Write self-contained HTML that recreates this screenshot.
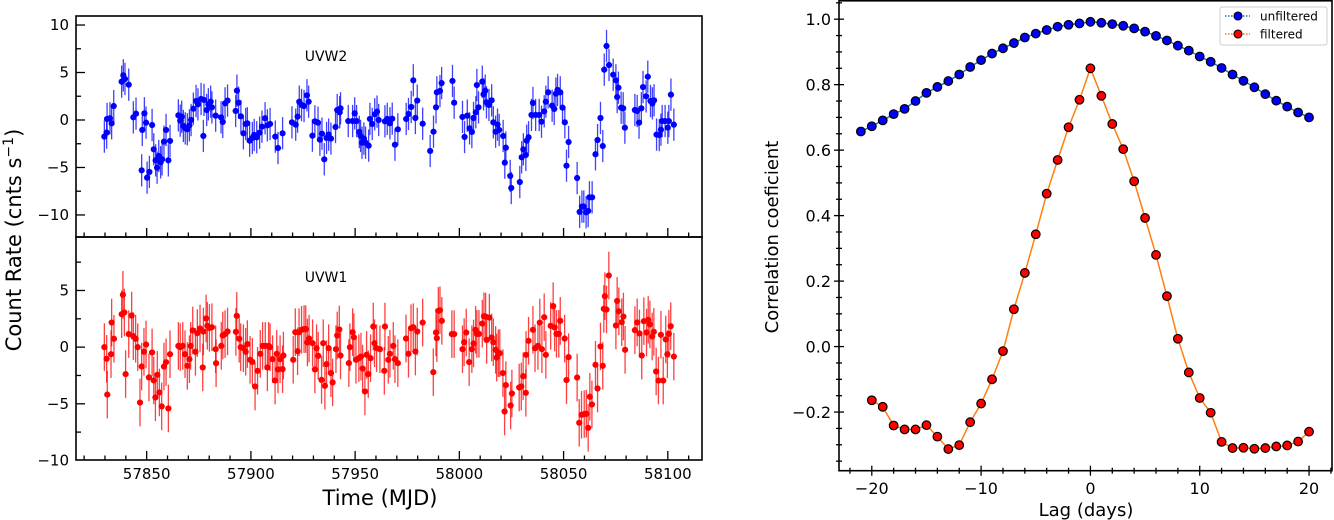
<!DOCTYPE html>
<html><head><meta charset="utf-8">
<style>
html,body{margin:0;padding:0;background:#fff;}
svg{display:block;font-family:"DejaVu Sans","Liberation Sans",sans-serif;}
</style></head>
<body>
<svg id="fig" width="1334" height="520" viewBox="0 0 1334 520" xmlns="http://www.w3.org/2000/svg">
<g id="lc"></g>
<g id="cc"></g>
</svg>
<script>
// ---------- Light-curve data ----------
const tW2 = [57829.7,57830.8,57831.0,57832.4,57833.2,57834.2,57838.0,57838.8,57839.6,57841.4,57843.6,57844.9,57847.6,57847.9,57848.9,57849.7,57850.2,57851.3,57852.6,57853.4,57854.3,57855.0,57855.8,57856.7,57857.4,57858.3,57859.3,57860.4,57861.2,57865.2,57866.1,57866.8,57867.6,57868.5,57869.5,57870.5,57871.3,57872.4,57873.7,57874.6,57876.1,57877.2,57877.5,57878.8,57879.6,57880.7,57881.3,57883.1,57885.7,57886.5,57887.6,57888.8,57892.7,57893.3,57894.1,57895.2,57896.4,57897.5,57898.3,57899.4,57900.7,57901.6,57902.8,57904.2,57905.3,57906.8,57907.9,57909.2,57911.7,57913.0,57915.2,57919.7,57921.5,57922.4,57923.2,57924.3,57925.5,57926.9,57927.7,57929.5,57930.7,57932.2,57933.1,57934.1,57935.2,57936.3,57937.3,57938.4,57940.6,57941.4,57942.6,57943.0,57946.7,57948.8,57949.8,57950.7,57952.0,57952.6,57953.3,57954.2,57955.0,57956.5,57957.1,57958.2,57959.4,57960.5,57961.3,57964.3,57965.4,57966.7,57967.8,57969.1,57970.5,57974.5,57975.6,57976.9,57977.9,57978.9,57979.8,57982.4,57986.0,57987.6,57988.8,57989.2,57990.7,57991.5,57996.7,57997.5,58001.5,58002.5,58003.8,58004.9,58006.0,58006.8,58007.9,58008.4,58009.2,58011.0,58011.6,58012.4,58013.0,58014.2,58015.5,58016.3,58017.4,58018.3,58019.1,58021.0,58021.8,58022.3,58024.4,58024.9,58029.0,58029.9,58030.7,58031.9,58032.3,58033.2,58034.6,58035.3,58036.6,58038.3,58039.4,58040.7,58041.5,58042.6,58044.5,58045.5,58046.3,58047.1,58048.4,58049.5,58050.6,58051.4,58052.4,58056.5,58057.7,58058.8,58059.7,58060.8,58061.8,58062.4,58063.7,58065.3,58066.3,58067.7,58068.8,58069.5,58070.6,58071.8,58073.8,58075.1,58076.3,58075.7,58077.6,58078.6,58079.4,58084.2,58085.3,58086.2,58087.3,58088.1,58089.6,58090.4,58091.7,58092.6,58093.4,58094.6,58095.9,58096.7,58097.3,58098.7,58100.0,58100.5,58101.5,58102.9];
const rW2 = [-1.75,-1.33,0.11,0.18,-0.35,1.47,4.04,4.7,4.32,3.72,0.28,0.67,-5.3,-1.05,0.7,-0.28,-6.07,-5.47,-0.53,-3.09,-4.25,-5.02,-3.79,-4.46,-4.14,-2.28,-1.05,-4.25,-2.21,0.49,-0.07,0.35,-0.63,-0.88,-0.98,-0.56,0,1.19,2.0,1.65,2.21,-1.68,2.11,1.05,1.65,1.93,1.33,0.46,0.28,-0.21,1.75,2.04,0.95,3.09,1.82,0.39,-1.4,-0.42,-0.35,-2.18,-1.89,-1.58,-1.82,-1.33,-0.7,0.18,-0.56,-0.42,-1.75,-2.95,-1.4,-0.25,-0.49,0.35,1.93,1.58,1.47,2.6,1.93,-1.65,-0.14,-0.28,-2.07,-1.44,-4.14,-1.89,-1.54,-1.96,-0.74,1.05,0.81,1.23,-0.11,-0.11,0.7,-0.11,-1.26,-1.68,-2.39,-1.96,-2.39,-2.7,0.11,-0.42,0.6,0.88,0,-0.14,0.11,-0.35,0.14,-2.6,-0.98,0.11,0.63,1.37,4.18,0.21,2.04,-0.39,-3.26,-1.23,1.33,2.91,3.05,3.89,4.11,1.82,0.32,-1.79,0.46,-0.88,-1.26,0.21,0.81,3.68,1.33,4.04,2.7,3.09,1.86,1.58,2.07,-0.25,-1.23,-0.49,-1.05,-1.68,-4.49,-2.91,-5.89,-7.16,-6.53,-3.93,-3.09,-3.68,-2.18,-1.82,0.53,1.79,0.53,0.53,-0.18,0.91,1.93,2.91,1.51,1.16,2.77,3.16,2.91,1.30,-0.25,-4.81,-2.32,-6.11,-9.68,-9.12,-9.12,-9.72,-9.58,-8.14,-8.14,-3.61,-2.11,0.21,-2.74,5.30,7.79,5.79,4.77,4.18,3.40,2.42,1.30,1.23,-0.81,1.05,0.95,-0.28,1.23,3.47,2.49,4.56,2.00,1.75,2.07,-1.54,-1.58,-1.02,-0.11,-0.11,-0.81,-0.11,2.67,-0.49];
const tW1 = [57829.7,57830.8,57831.1,57832.9,57833.2,57834.3,57838.0,57838.6,57839.3,57839.9,57841.4,57842.8,57843.6,57844.7,57845.7,57846.8,57847.6,57848.7,57849.7,57851.1,57852.6,57853.4,57854.2,57855.1,57856.1,57857.2,57858.3,57859.3,57860.4,57861.2,57865.2,57866.1,57867.3,57868.4,57869.5,57870.5,57871.1,57872.1,57873.4,57874.3,57875.6,57876.9,57877.2,57878.5,57879.1,57880.1,57881.3,57883.1,57883.3,57885.8,57886.5,57887.6,57888.8,57892.8,57893.2,57894.4,57895.1,57896.4,57897.5,57898.3,57899.6,57900.7,57902.0,57903.2,57904.5,57905.6,57906.9,57907.9,57908.5,57909.2,57910.4,57911.6,57912.4,57913.0,57914.0,57915.2,57915.6,57920.3,57921.3,57922.4,57923.1,57924.3,57925.5,57926.3,57927.1,57927.9,57929.6,57930.7,57931.5,57932.3,57933.9,57934.7,57935.5,57936.3,57937.3,57938.4,57939.2,57940.8,57941.4,57942.4,57943.0,57947.0,57947.5,57948.8,57949.4,57950.4,57951.8,57952.8,57953.6,57954.7,57955.5,57956.3,57957.4,57958.7,57959.3,57960.3,57961.9,57964.0,57964.3,57965.9,57966.7,57968.3,57969.1,57970.5,57974.4,57975.6,57976.8,57977.9,57978.9,57979.8,57982.4,57987.5,57988.8,57989.2,57989.9,57990.7,57991.6,57996.4,57997.5,58001.5,58002.3,58003.3,58004.7,58006.0,58006.8,58007.8,58008.4,58009.4,58011.0,58011.8,58012.6,58013.1,58014.4,58015.5,58016.3,58017.4,58017.9,58018.7,58019.4,58020.9,58021.7,58022.3,58024.6,58025.2,58028.7,58029.7,58030.6,58031.9,58032.0,58033.2,58035.3,58036.3,58037.7,58038.6,58039.6,58040.7,58041.5,58043.8,58045.0,58045.7,58046.6,58047.7,58048.4,58050.5,58051.4,58052.4,58056.5,58057.5,58058.6,58059.9,58060.9,58061.8,58062.6,58063.6,58065.3,58066.3,58067.7,58068.8,58069.3,58069.8,58070.6,58071.7,58075.1,58075.7,58076.5,58077.9,58078.7,58079.5,58084.2,58085.3,58086.4,58087.5,58088.5,58089.8,58090.6,58091.4,58092.5,58093.3,58094.4,58095.5,58096.7,58097.8,58099.0,58099.8,58100.5,58101.4,58102.9];
const rW1 = [0.0,-1.03,-4.19,-0.62,2.17,0.74,2.91,4.62,3.06,-2.38,1.15,2.79,0.97,0.74,0,-4.89,-1.71,-0.41,0.23,-2.67,-0.47,-2.94,-4.44,-2.44,-4.00,-5.23,-1.71,-1.33,-5.41,-0.62,0.11,0,0.11,-0.62,-1.65,-1.06,0.11,1.47,-0.41,1.24,1.65,-1.79,1.38,2.53,1.88,1.70,1.76,-0.18,-1.42,0.11,1.03,1.15,1.38,1.35,2.76,0.74,0,-0.09,-0.41,0.27,-1.12,-1.30,-3.47,-2.09,-0.59,0.11,0.11,-1.79,0.11,0,-1.06,-2.94,-0.59,-1.97,-1.06,-1.94,-0.74,-1.12,1.32,-0.36,1.32,1.53,1.59,1.59,0.41,0.76,0.35,-1.97,-0.09,-0.77,-2.89,0.35,-3.41,-1.50,-0.09,-2.29,-3.11,-0.18,1.03,1.56,-0.74,-1.41,0,1.32,0.88,-1.12,-0.97,-0.83,-1.89,-3.91,-0.68,-2.38,-0.97,1.82,0.35,-0.09,-0.18,-2.09,1.82,-1.12,-0.59,0.11,-1.06,-1.41,0.76,-0.59,1.67,1.76,-0.39,1.38,2.17,-2.21,1.29,0.79,3.20,3.26,2.32,1.15,1.15,-0.18,0.44,1.29,-1.32,-0.18,0.32,1.53,1.17,1.17,2.08,2.73,2.70,0.64,2.61,0.85,0.44,-0.24,-0.92,-0.53,-0.53,-2.29,-5.68,-3.35,-5.15,-4.09,-3.56,-3.47,-2.56,-4.03,-0.68,0.56,1.53,-0.09,0.11,2.17,-0.18,2.64,-0.68,1.88,3.62,1.74,1.17,1.17,2.32,0.76,-2.91,-0.88,-2.68,-6.68,-5.97,-5.91,-5.88,-7.12,-4.38,-5.06,-1.56,-3.65,0.06,-1.65,3.38,4.50,3.32,6.32,1.91,4.08,3.17,2.20,2.70,-0.24,1.50,2.18,1.21,-0.74,2.29,1.29,2.41,2.00,0.94,1.35,-2.15,-2.95,1.09,-2.95,0.68,-0.62,1.17,1.85,-0.83];
const errW2 = [1.7];
const errW1 = [2.1];
const timeTicks = [57850,57900,57950,58000,58050,58100];
const topYTicks = [-10,-5,0,5,10];
const botYTicks = [-10,-5,0,5];

// ---------- CCF data ----------
const lagsUnf = [-21,-20,-19,-18,-17,-16,-15,-14,-13,-12,-11,-10,-9,-8,-7,-6,-5,-4,-3,-2,-1,0,1,2,3,4,5,6,7,8,9,10,11,12,13,14,15,16,17,18,19,20];
const ccfUnf = [0.657,0.673,0.691,0.710,0.726,0.750,0.775,0.793,0.811,0.831,0.854,0.875,0.895,0.911,0.927,0.944,0.956,0.967,0.977,0.983,0.987,0.992,0.989,0.985,0.980,0.972,0.962,0.949,0.935,0.919,0.904,0.886,0.870,0.851,0.831,0.812,0.792,0.771,0.751,0.733,0.715,0.700];
const lagsFilt = [-20,-19,-18,-17,-16,-15,-14,-13,-12,-11,-10,-9,-8,-7,-6,-5,-4,-3,-2,-1,0,1,2,3,4,5,6,7,8,9,10,11,12,13,14,15,16,17,18,19,20];
const ccfFilt = [-0.164,-0.184,-0.241,-0.253,-0.253,-0.240,-0.275,-0.313,-0.301,-0.231,-0.174,-0.100,-0.014,0.114,0.225,0.343,0.467,0.570,0.670,0.754,0.850,0.766,0.680,0.603,0.505,0.393,0.280,0.154,0.024,-0.079,-0.157,-0.202,-0.291,-0.310,-0.309,-0.312,-0.310,-0.305,-0.302,-0.290,-0.260];
const lagTicks = [-20,-10,0,10,20];
const ccTicks = [-0.2,0.0,0.2,0.4,0.6,0.8,1.0];

const NS = "http://www.w3.org/2000/svg";
function mk(parent, tag, attrs, text){
  const e = document.createElementNS(NS, tag);
  for (const k in attrs) e.setAttribute(k, attrs[k]);
  if (text !== undefined) e.textContent = text;
  parent.appendChild(e);
  return e;
}

// ----- Left panels -----
const lc = document.getElementById('lc');
const L = {x0:76, x1:702, tMin:57816.1, tMax:58116.4};
const xT = t => L.x0 + (t - L.tMin) / (L.tMax - L.tMin) * (L.x1 - L.x0);
const topP = {y0:16, y1:237, vMax:10.95, vMin:-12.32};
const botP = {y0:237, y1:460, vMax:9.72, vMin:-9.96};
const yOf = (p, v) => p.y0 + (p.vMax - v) / (p.vMax - p.vMin) * (p.y1 - p.y0);

function drawLC(p, ts, rs, err, color, label, yTicks, name){
  const g = mk(lc, 'g', {});
  
  
  for (let i = 0; i < ts.length; i++){
    const x = xT(ts[i]), y = yOf(p, rs[i]);
    const eb = mk(g, 'line', {x1:x, x2:x, y1:yOf(p, rs[i]+err), y2:yOf(p, rs[i]-err), stroke:color, 'stroke-width':1.3, 'stroke-opacity':0.75});
    
    
    const c = mk(g, 'circle', {cx:x, cy:y, r:3.1, fill:color});
    
    
  }
  // frame
  const fr = mk(g, 'rect', {x:L.x0, y:p.y0, width:L.x1-L.x0, height:p.y1-p.y0, fill:'none', stroke:'#000', 'stroke-width':1.6});
  
  
  // y ticks
  const step = 2.5;
  for (let v = Math.ceil(p.vMin/step)*step; v <= p.vMax; v += step){
    const y = yOf(p, v);
    const major = Math.abs(v/5 - Math.round(v/5)) < 1e-6;
    mk(g, 'line', {x1:L.x0, x2:L.x0 + (major?9:5), y1:y, y2:y, stroke:'#000', 'stroke-width':1.3});
  }
  yTicks.forEach(v => {
    const t = mk(g, 'text', {x:L.x0-7, y:yOf(p, v)+5, 'text-anchor':'end', 'font-size':15}, v < 0 ? '\u2212' + Math.abs(v) : String(v));
    
    
  });
  // x ticks (inward, on bottom spine)
  for (let t = 57820; t <= 58110; t += 10){
    const x = xT(t);
    const major = t % 50 === 0;
    mk(g, 'line', {x1:x, x2:x, y1:p.y1, y2:p.y1 - (major?9:4.5), stroke:'#000', 'stroke-width':1.3});
  }
  const lb = mk(g, 'text', {x:326, y:p.y0 + 45, 'text-anchor':'middle', 'font-size':14}, label);
  
  
}
drawLC(topP, tW2, rW2, errW2[0], '#0000ff', 'UVW2', topYTicks, 'uvw2');
drawLC(botP, tW1, rW1, errW1[0], '#ff0000', 'UVW1', botYTicks, 'uvw1');

timeTicks.forEach(t => {
  const e = mk(lc, 'text', {x:xT(t), y:479, 'text-anchor':'middle', 'font-size':15}, String(t));
  
  
});
const xtl = mk(lc, 'text', {x:380, y:505, 'text-anchor':'middle', 'font-size':21}, 'Time (MJD)');


const ytl = mk(lc, 'text', {x:0, y:0, 'text-anchor':'middle', 'font-size':21, transform:'translate(21,240) rotate(-90)'});


ytl.innerHTML = 'Count Rate (cnts s<tspan dy="-8" font-size="14">\u22121</tspan><tspan dy="8">)</tspan>';

// ----- Right panel -----
const cc = document.getElementById('cc');
const R = {x0:839, x1:1332, y0:0, y1:470.7, lMin:-23.0, lMax:22.1, vMin:-0.3791, vMax:1.0586};
const xL = l => R.x0 + (l - R.lMin) / (R.lMax - R.lMin) * (R.x1 - R.x0);
const yC = v => R.y0 + (R.vMax - v) / (R.vMax - R.vMin) * (R.y1 - R.y0);

const fr2 = mk(cc, 'rect', {x:R.x0, y:R.y0+0.8, width:R.x1-R.x0, height:R.y1-R.y0-0.8, fill:'none', stroke:'#000', 'stroke-width':1.6});



const unfLine = mk(cc, 'polyline', {points: lagsUnf.map((l,i)=>xL(l)+','+yC(ccfUnf[i])).join(' '), fill:'none', stroke:'#1f77b4', 'stroke-width':1.5});


const filtLine = mk(cc, 'polyline', {points: lagsFilt.map((l,i)=>xL(l)+','+yC(ccfFilt[i])).join(' '), fill:'none', stroke:'#ff7f0e', 'stroke-width':1.5});


lagsUnf.forEach((l,i) => {
  const c = mk(cc, 'circle', {cx:xL(l), cy:yC(ccfUnf[i]), r:4.3, fill:'#0000ff', stroke:'#000', 'stroke-width':1.2});
  
  
});
lagsFilt.forEach((l,i) => {
  const c = mk(cc, 'circle', {cx:xL(l), cy:yC(ccfFilt[i]), r:4.3, fill:'#ff0000', stroke:'#000', 'stroke-width':1.2});
  
  
});
// y ticks inout
for (let k = -7; k <= 21; k++){
  const v = k * 0.05;
  if (v < R.vMin || v > R.vMax) continue;
  const y = yC(v);
  const major = k % 4 === 0;
  mk(cc, 'line', {x1:R.x0 - (major?5:3), x2:R.x0 + (major?5:3), y1:y, y2:y, stroke:'#000', 'stroke-width':1.3});
}
ccTicks.forEach(v => {
  const t = mk(cc, 'text', {x:R.x0-8, y:yC(v)+6, 'text-anchor':'end', 'font-size':16}, (v < 0 ? '\u2212' : '') + Math.abs(v).toFixed(1));
  
  
});
for (let l = -22; l <= 22; l += 2){
  const x = xL(l);
  const major = l % 10 === 0;
  mk(cc, 'line', {x1:x, x2:x, y1:R.y1 - (major?5:3), y2:R.y1 + (major?5:3), stroke:'#000', 'stroke-width':1.3});
}
lagTicks.forEach(l => {
  const t = mk(cc, 'text', {x:xL(l), y:494, 'text-anchor':'middle', 'font-size':16}, (l < 0 ? '\u2212' : '') + Math.abs(l));
  
  
});
const lxt = mk(cc, 'text', {x:1086, y:516, 'text-anchor':'middle', 'font-size':18}, 'Lag (days)');


const lyt = mk(cc, 'text', {x:0, y:0, 'text-anchor':'middle', 'font-size':18, transform:'translate(778,237) rotate(-90)'}, 'Correlation coeficient');



// legend
const lg = mk(cc, 'g', {});


mk(lg, 'rect', {x:1220, y:7, width:107, height:38, rx:2, fill:'#fff', 'fill-opacity':0.85, stroke:'#ccc', 'stroke-width':1});
const ents = [['unfiltered','#1f77b4','#0000ff',16],['filtered','#ff7f0e','#ff0000',34]];
ents.forEach(e => {
  const ge = mk(lg, 'g', {});
  
  
  mk(ge, 'line', {x1:1225, x2:1250, y1:e[3], y2:e[3], stroke:e[1], 'stroke-width':1.5, 'stroke-dasharray':'1.5,1.5'});
  mk(ge, 'circle', {cx:1238, cy:e[3], r:4, fill:e[2], stroke:'#000', 'stroke-width':1.1});
  mk(ge, 'text', {x:1260, y:e[3]+4.5, 'font-size':12}, e[0]);
});
</script>
</body></html>
